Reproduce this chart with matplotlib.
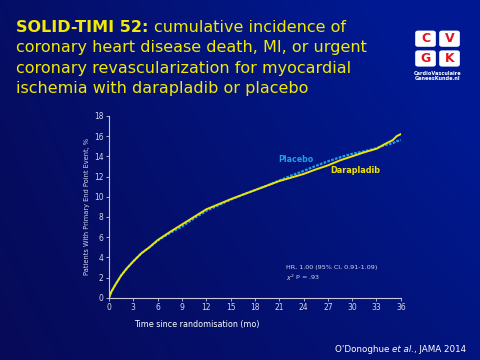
import numpy as np
import matplotlib
matplotlib.use("Agg")
import matplotlib.pyplot as plt
from matplotlib.patches import FancyBboxPatch

# data (months, % with event)
months = [0, 0.3, 0.8, 1.5, 2.2, 3, 4, 5, 6, 7.5, 9, 10.5, 12, 13.5, 15, 16.5, 18,
          19.5, 21, 22.5, 24, 25.5, 27, 28.5, 30, 31.5, 33, 34, 35, 35.5, 36]
darapladib = [0, 0.6, 1.3, 2.2, 2.9, 3.6, 4.4, 5.0, 5.7, 6.5, 7.25, 8.0, 8.75, 9.25,
              9.75, 10.2, 10.65, 11.1, 11.55, 11.9, 12.25, 12.7, 13.1, 13.6, 14.0,
              14.4, 14.75, 15.2, 15.6, 16.0, 16.2]
placebo = [0, 0.6, 1.3, 2.2, 2.9, 3.6, 4.4, 5.0, 5.65, 6.4, 7.05, 7.85, 8.6, 9.15,
           9.7, 10.2, 10.65, 11.1, 11.6, 12.1, 12.55, 13.05, 13.5, 13.9, 14.25,
           14.5, 14.8, 15.1, 15.3, 15.5, 15.6]
xticks = list(range(0, 37, 3))
yticks = list(range(0, 19, 2))

fig = plt.figure(figsize=(4.8, 3.6), dpi=100)
renderer = fig.canvas.get_renderer()


def text_run(x, y, parts, **kw):
    # write pieces of text one after another on a line (figure coords)
    for s, style in parts:
        t = fig.text(x, y, s, va="center", **style, **kw)
        bb = t.get_window_extent(renderer)
        x += bb.width / fig.bbox.width


# slide background gradient
bg = fig.add_axes([0, 0, 1, 1], zorder=-10)
gx, gy = np.meshgrid(np.linspace(0, 1, 200), np.linspace(0, 1, 150))
g = np.clip(0.55 * gx + 0.2 * (1 - gy) + 0.25 * gx * (1 - gy) + 0.15, 0, 1)
c0 = np.array([0.03, 0.03, 0.30])
c1 = np.array([0.0, 0.10, 0.58])
img = c0[None, None, :] * (1 - g[..., None]) + c1[None, None, :] * g[..., None]
bg.imshow(img, extent=[0, 1, 0, 1], aspect="auto", origin="upper")
bg.set_xlim(0, 1)
bg.set_ylim(0, 1)
bg.axis("off")

# title
yel = "#f2ea00"
tfs = 11.5
text_run(0.033, 0.925, [("SOLID-TIMI 52: ", {"fontweight": "bold"}),
                        ("cumulative incidence of", {})], color=yel, fontsize=tfs)
fig.text(0.033, 0.868, "coronary heart disease death, MI, or urgent", color=yel,
         fontsize=tfs, va="center")
fig.text(0.033, 0.811, "coronary revascularization for myocardial", color=yel,
         fontsize=tfs, va="center")
fig.text(0.033, 0.754, "ischemia with darapladib or placebo", color=yel,
         fontsize=tfs, va="center")

# logo
letters = ["C", "V", "G", "K"]
boxes = [(0.865, 0.87), (0.915, 0.87), (0.865, 0.815), (0.915, 0.815)]
for (bx, by), ch in zip(boxes, letters):
    fig.patches.append(FancyBboxPatch((bx, by), 0.043, 0.045,
                                      boxstyle="round,pad=0,rounding_size=0.006",
                                      transform=fig.transFigure, fc="white", ec="none"))
    fig.text(bx + 0.0215, by + 0.0225, ch, color="#e0141e", fontsize=9,
             fontweight="bold", ha="center", va="center")
fig.text(0.911, 0.797, "CardioVasculaire", color="white", fontsize=3.6,
         fontweight="bold", ha="center", va="center")
fig.text(0.911, 0.781, "GeneesKunde.nl", color="white", fontsize=3.6,
         fontweight="bold", ha="center", va="center")

# chart
ax = fig.add_axes([0.227, 0.173, 0.608, 0.505])
ax.patch.set_alpha(0)
ax.plot(months, placebo, color="#1fa0e6", lw=1.6, ls=(0, (1.2, 0.6)), zorder=2)
ax.plot(months, darapladib, color="#f0e400", lw=1.4, zorder=3)
ax.set_xlim(0, 36)
ax.set_ylim(0, 18)
ax.set_xticks(xticks)
ax.set_yticks(yticks)
for s in ["top", "right"]:
    ax.spines[s].set_visible(False)
for s in ["left", "bottom"]:
    ax.spines[s].set_color("#c8c8d8")
    ax.spines[s].set_linewidth(0.8)
ax.tick_params(colors="#c8c8d8", labelsize=5.5, length=2.5, width=0.6, pad=1.5,
               labelcolor="#d8d8e4")
ax.set_ylabel("Patients With Primary End Point Event, %", color="#d8d8e4",
              fontsize=4.8, labelpad=3)
ax.set_xlabel("Time since randomisation (mo)", color="white", fontsize=5.8)
ax.xaxis.set_label_coords(0.30, -0.12)

ax.text(20.9, 13.7, "Placebo", color="#1fa0e6", fontsize=5.7, fontweight="bold",
        va="center")
ax.text(27.3, 12.6, "Darapladib", color="#f0e400", fontsize=5.9, fontweight="bold",
        va="center")
ax.text(21.8, 3.0, "HR, 1.00 (95% CI, 0.91-1.09)", color="#d8d8e4", fontsize=4.6,
        va="center")
ax.text(21.8, 1.95, r"$\chi^2$ P = .93", color="#d8d8e4", fontsize=4.6, va="center")

# source
text_run(0.698, 0.03, [("O'Donoghue ", {}), ("et al.", {"style": "italic"}),
                       (", JAMA 2014", {})], color="white", fontsize=6.3)

fig.savefig("out.png", dpi=100)
